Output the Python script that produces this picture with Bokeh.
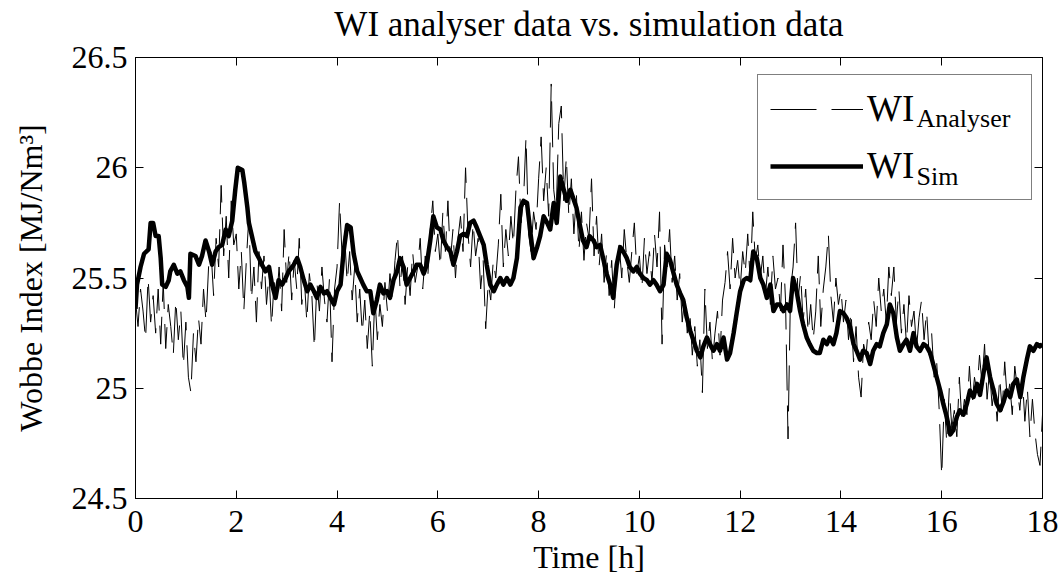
from bokeh.plotting import figure
from bokeh.models import Range1d, LinearAxis, Legend, LegendItem, Label, FixedTicker
from bokeh.embed import file_html
from bokeh.resources import INLINE

# ---------------- data ----------------
sim_t = [0.00, 0.03, 0.10, 0.17, 0.26, 0.30, 0.35, 0.40, 0.46, 0.50, 0.53, 0.60, 0.66, 0.69, 0.76, 0.83,
         0.89, 0.96, 1.03, 1.06, 1.09, 1.19, 1.26, 1.32, 1.39, 1.46, 1.52, 1.59, 1.65, 1.72, 1.79, 1.85,
         1.92, 1.98, 2.03, 2.12, 2.16, 2.22, 2.25, 2.31, 2.38, 2.45, 2.51, 2.58, 2.65, 2.71, 2.78, 2.84,
         2.91, 2.98, 3.04, 3.14, 3.21, 3.27, 3.34, 3.41, 3.47, 3.54, 3.60, 3.67, 3.74, 3.80, 3.87, 3.94,
         4.00, 4.07, 4.13, 4.20, 4.27, 4.33, 4.40, 4.46, 4.52, 4.59, 4.66, 4.72, 4.79, 4.85, 4.92, 4.99,
         5.05, 5.12, 5.19, 5.25, 5.32, 5.38, 5.45, 5.52, 5.58, 5.65, 5.72, 5.78, 5.85, 5.91, 5.98, 6.05,
         6.11, 6.18, 6.25, 6.31, 6.38, 6.44, 6.51, 6.58, 6.64, 6.71, 6.77, 6.84, 6.91, 6.97, 7.04, 7.11,
         7.17, 7.24, 7.30, 7.37, 7.44, 7.50, 7.57, 7.64, 7.70, 7.77, 7.83, 7.90, 7.97, 8.03, 8.10, 8.17,
         8.23, 8.30, 8.36, 8.43, 8.50, 8.56, 8.63, 8.75, 8.81, 8.88, 8.95, 9.01, 9.09, 9.15, 9.22, 9.28,
         9.35, 9.42, 9.48, 9.55, 9.62, 9.68, 9.75, 9.81, 9.88, 9.95, 10.01, 10.08, 10.15, 10.21, 10.28, 10.34,
         10.41, 10.48, 10.54, 10.61, 10.68, 10.74, 10.81, 10.87, 10.94, 11.01, 11.07, 11.14, 11.21, 11.27, 11.34, 11.40,
         11.47, 11.54, 11.60, 11.67, 11.74, 11.80, 11.87, 11.93, 12.00, 12.07, 12.13, 12.20, 12.26, 12.33, 12.40, 12.46,
         12.53, 12.60, 12.66, 12.73, 12.79, 12.86, 12.93, 12.99, 13.05, 13.12, 13.19, 13.25, 13.32, 13.38, 13.45, 13.52,
         13.58, 13.65, 13.72, 13.78, 13.85, 13.91, 13.98, 14.05, 14.11, 14.18, 14.25, 14.31, 14.38, 14.44, 14.51, 14.58,
         14.64, 14.71, 14.77, 14.84, 14.91, 14.97, 15.04, 15.11, 15.17, 15.24, 15.30, 15.37, 15.44, 15.50, 15.57, 15.64,
         15.70, 15.77, 15.83, 15.90, 15.97, 16.03, 16.10, 16.17, 16.23, 16.30, 16.36, 16.43, 16.50, 16.56, 16.63, 16.70,
         16.76, 16.83, 16.89, 16.96, 17.03, 17.09, 17.16, 17.23, 17.29, 17.36, 17.42, 17.49, 17.56, 17.62, 17.69, 17.75,
         17.82, 17.89, 17.95, 18.00]
sim_v = [25.36, 25.47, 25.55, 25.61, 25.63, 25.75, 25.75, 25.69, 25.69, 25.59, 25.47, 25.46, 25.49, 25.53, 25.56, 25.52,
         25.53, 25.49, 25.46, 25.41, 25.61, 25.60, 25.56, 25.60, 25.67, 25.62, 25.56, 25.62, 25.64, 25.65, 25.72, 25.69,
         25.76, 25.90, 26.00, 25.99, 25.93, 25.82, 25.75, 25.69, 25.62, 25.59, 25.56, 25.53, 25.55, 25.47, 25.41, 25.49,
         25.47, 25.50, 25.53, 25.56, 25.59, 25.55, 25.49, 25.44, 25.47, 25.44, 25.41, 25.46, 25.43, 25.44, 25.41, 25.38,
         25.44, 25.47, 25.62, 25.74, 25.73, 25.61, 25.53, 25.50, 25.47, 25.44, 25.44, 25.34, 25.40, 25.47, 25.43, 25.44,
         25.41, 25.49, 25.53, 25.59, 25.55, 25.47, 25.50, 25.53, 25.56, 25.56, 25.52, 25.56, 25.67, 25.78, 25.73, 25.72,
         25.67, 25.64, 25.62, 25.56, 25.62, 25.69, 25.70, 25.69, 25.75, 25.76, 25.73, 25.69, 25.65, 25.56, 25.47, 25.44,
         25.47, 25.50, 25.47, 25.50, 25.47, 25.50, 25.59, 25.82, 25.85, 25.84, 25.72, 25.59, 25.64, 25.69, 25.78, 25.75,
         25.72, 25.84, 25.75, 25.96, 25.90, 25.85, 25.90, 25.82, 25.75, 25.67, 25.64, 25.69, 25.67, 25.64, 25.65, 25.59,
         25.52, 25.47, 25.41, 25.56, 25.64, 25.62, 25.59, 25.55, 25.53, 25.55, 25.52, 25.50, 25.49, 25.47, 25.49, 25.47,
         25.44, 25.47, 25.61, 25.58, 25.52, 25.47, 25.43, 25.40, 25.32, 25.26, 25.22, 25.17, 25.14, 25.19, 25.23, 25.20,
         25.17, 25.20, 25.17, 25.23, 25.13, 25.16, 25.25, 25.34, 25.44, 25.49, 25.50, 25.49, 25.62, 25.59, 25.50, 25.47,
         25.41, 25.47, 25.35, 25.38, 25.38, 25.35, 25.38, 25.35, 25.50, 25.44, 25.35, 25.29, 25.23, 25.20, 25.17, 25.16,
         25.16, 25.22, 25.20, 25.23, 25.20, 25.25, 25.35, 25.34, 25.32, 25.28, 25.20, 25.17, 25.13, 25.17, 25.16, 25.11,
         25.17, 25.20, 25.19, 25.25, 25.29, 25.38, 25.34, 25.23, 25.17, 25.20, 25.22, 25.17, 25.25, 25.19, 25.17, 25.20,
         25.19, 25.16, 25.11, 25.05, 24.99, 24.93, 24.87, 24.79, 24.81, 24.87, 24.90, 24.88, 24.93, 24.99, 24.96, 25.02,
         24.97, 25.07, 25.14, 25.05, 24.99, 24.93, 24.90, 24.94, 24.99, 24.96, 25.02, 25.04, 24.96, 25.05, 25.13, 25.19,
         25.17, 25.20, 25.19, 25.20]

ana_step = 0.05  # hours between analyser samples
ana_v = [
    25.40, 25.28, 25.45, 25.35, 25.22, 25.50, 25.30, 25.42, 25.25, 25.45,
    25.20, 25.48, 25.18, 25.38, 25.28, 25.15, 25.40, 25.22, 25.35, 25.10,
    25.30, 25.05, 24.98, 25.25, 25.12, 25.32, 25.20, 25.45, 25.30, 25.55,
    25.62, 25.42, 25.68, 25.55, 25.92, 25.60, 25.78, 25.50, 25.85, 25.65,
    25.70, 25.45, 25.62, 25.35, 25.58, 25.78, 25.40, 25.55, 25.30, 25.62,
    25.45, 25.60, 25.38, 25.52, 25.28, 25.48, 25.40, 25.55, 25.35, 25.72,
    25.48, 25.62, 25.40, 25.58, 25.45, 25.68, 25.38, 25.50, 25.30, 25.52,
    25.42, 25.18, 25.48, 25.35, 25.55, 25.40, 25.30, 25.50, 25.12, 25.45,
    25.55, 25.85, 25.60, 25.70, 25.48, 25.62, 25.40, 25.55, 25.30, 25.45,
    25.25, 25.40, 25.18, 25.35, 25.10, 25.42, 25.22, 25.38, 25.28, 25.48,
    25.35, 25.52, 25.40, 25.58, 25.70, 25.45, 25.60, 25.38, 25.55, 25.42,
    25.62, 25.48, 25.55, 25.68, 25.45, 25.60, 25.50, 25.72, 25.85, 25.62,
    25.70, 25.55, 25.80, 25.62, 25.85, 25.58, 25.72, 25.50, 25.68, 25.78,
    25.62, 26.00, 25.70, 25.55, 25.75, 25.60, 25.68, 25.45, 25.58, 25.27,
    25.48, 25.40, 25.58, 25.50, 25.65, 25.88, 25.55, 25.72, 25.60, 25.78,
    25.65, 25.90, 26.05, 25.75, 25.85, 26.14, 25.70, 25.62, 25.80, 25.72,
    25.95, 26.14, 25.85, 26.00, 25.78, 26.38, 25.90, 25.80, 26.20, 26.28,
    25.85, 26.05, 25.78, 25.95, 25.70, 25.88, 25.62, 25.80, 25.58, 25.75,
    25.68, 25.95, 25.60, 25.78, 25.55, 25.70, 25.48, 25.62, 25.42, 25.58,
    25.35, 25.55, 25.65, 25.50, 25.72, 25.58, 25.48, 25.62, 25.75, 25.52,
    25.60, 25.45, 25.68, 25.52, 25.62, 25.48, 25.70, 25.55, 25.80, 25.20,
    25.65, 25.55, 25.72, 25.48, 25.60, 25.40, 25.52, 25.30, 25.42, 25.25,
    25.35, 25.15, 25.28, 25.10, 25.22, 24.98, 25.45, 25.18, 25.30, 25.12,
    25.25, 25.35, 25.15, 25.40, 25.48, 25.62, 25.45, 25.68, 25.50, 25.58,
    25.45, 25.62, 25.52, 25.70, 25.48, 25.80, 25.58, 25.65, 25.50, 25.60,
    25.42, 25.55, 25.38, 25.60, 25.45, 25.50, 25.35, 25.65, 25.40, 24.77,
    25.45, 25.55, 25.75, 25.40, 25.52, 25.30, 25.45, 25.25, 25.38, 25.22,
    25.35, 25.60, 25.28, 25.45, 25.55, 25.70, 25.42, 25.30, 25.50, 25.38,
    25.45, 25.30, 25.40, 25.22, 25.35, 25.12, 25.28, 25.05, 24.96, 25.20,
    25.15, 25.30, 25.22, 25.40, 25.28, 25.50, 25.35, 25.45, 25.30, 25.55,
    25.42, 25.55, 25.30, 25.45, 25.25, 25.38, 25.20, 25.42, 25.28, 25.35,
    25.18, 25.32, 25.40, 25.22, 25.35, 25.15, 25.25, 25.05, 25.12, 24.90,
    24.60, 24.95, 24.75, 25.00, 24.82, 24.90, 24.78, 25.05, 24.85, 24.95,
    24.88, 25.10, 24.92, 25.05, 24.98, 25.15, 25.02, 25.20, 24.95, 25.08,
    24.92, 25.00, 24.85, 25.05, 24.90, 25.12, 24.95, 25.02, 24.88, 25.10,
    25.00, 24.90, 25.05, 24.85, 25.00, 24.78, 24.95, 24.80, 24.70, 24.65,
    24.88]
ana_t = [round(i * ana_step, 3) for i in range(len(ana_v))]

x_ticks = [0, 2, 4, 6, 8, 10, 12, 14, 16, 18]
y_ticks = [24.5, 25, 25.5, 26, 26.5]
y_tick_labels = {24.5: "24.5", 25: "25", 25.5: "25.5", 26: "26", 26.5: "26.5"}

title_text = "WI analyser data vs. simulation data"
x_label = "Time [h]"
y_label = "Wobbe Index [MJ/Nm³]"

FONT = "Liberation Serif"
FS = "32px"

# ---------------- figure ----------------
p = figure(width=1064, height=585, output_backend="svg", toolbar_location=None,
           x_range=Range1d(0, 18), y_range=Range1d(24.5, 26.5),
           min_border_left=135, min_border_right=22, min_border_top=57, min_border_bottom=87)

p.grid.visible = False
p.outline_line_color = "black"
p.outline_line_width = 1
p.background_fill_color = "white"
p.border_fill_color = "white"

for ax in (p.xaxis[0], p.yaxis[0]):
    ax.major_label_text_font = FONT
    ax.major_label_text_font_size = FS
    ax.major_label_text_color = "black"
    ax.axis_label_text_font = FONT
    ax.axis_label_text_font_size = FS
    ax.axis_label_text_font_style = "normal"
    ax.axis_label_text_color = "black"
    ax.major_tick_in = 8
    ax.major_tick_out = 0
    ax.minor_tick_line_color = None
    ax.axis_line_color = "black"
    ax.major_tick_line_color = "black"

p.xaxis[0].ticker = FixedTicker(ticks=x_ticks)
p.yaxis[0].ticker = FixedTicker(ticks=y_ticks)
p.yaxis[0].major_label_overrides = y_tick_labels
p.xaxis[0].axis_label = x_label
p.yaxis[0].axis_label = y_label
p.xaxis[0].major_label_standoff = 12
p.yaxis[0].major_label_standoff = 8
p.xaxis[0].axis_label_standoff = 4
p.yaxis[0].axis_label_standoff = 20

# mirrored tick axes (top and right); the top one carries the chart title
top_ax = LinearAxis(ticker=FixedTicker(ticks=x_ticks), major_tick_in=8, major_tick_out=0,
                    minor_tick_line_color=None, major_label_text_font_size="0px",
                    major_label_standoff=0, major_tick_line_color="black",
                    axis_label=title_text, axis_label_text_font=FONT,
                    axis_label_text_font_size="35px", axis_label_text_font_style="normal",
                    axis_label_text_color="black", axis_label_standoff=14)
right_ax = LinearAxis(ticker=FixedTicker(ticks=y_ticks), major_tick_in=8, major_tick_out=0,
                      minor_tick_line_color=None, major_label_text_font_size="0px",
                      major_label_standoff=0, major_tick_line_color="black")
p.add_layout(top_ax, "above")
p.add_layout(right_ax, "right")

r_ana = p.line(ana_t, ana_v, line_color="black", line_width=1, line_dash="46 15")
r_sim = p.line(sim_t, sim_v, line_color="black", line_width=4.5, line_join="round")

legend = Legend(items=[LegendItem(label="WI", renderers=[r_ana]),
                       LegendItem(label="WI", renderers=[r_sim])],
                location=(622, 298), orientation="vertical",
                glyph_width=93, glyph_height=36, spacing=14, padding=12,
                label_standoff=4, label_width=152,
                label_text_font=FONT, label_text_font_size="37px", label_text_color="black",
                border_line_color="black", border_line_width=1,
                background_fill_alpha=0)
p.add_layout(legend)

sub1 = Label(x=781, y=380, x_units="screen", y_units="screen", text="Analyser",
             text_font=FONT, text_font_size="26px", text_baseline="alphabetic",
             text_color="black")
sub2 = Label(x=781, y=322, x_units="screen", y_units="screen", text="Sim",
             text_font=FONT, text_font_size="26px", text_baseline="alphabetic",
             text_color="black")
p.add_layout(sub1)
p.add_layout(sub2)

open("out.html", "w").write(file_html(p, INLINE))
